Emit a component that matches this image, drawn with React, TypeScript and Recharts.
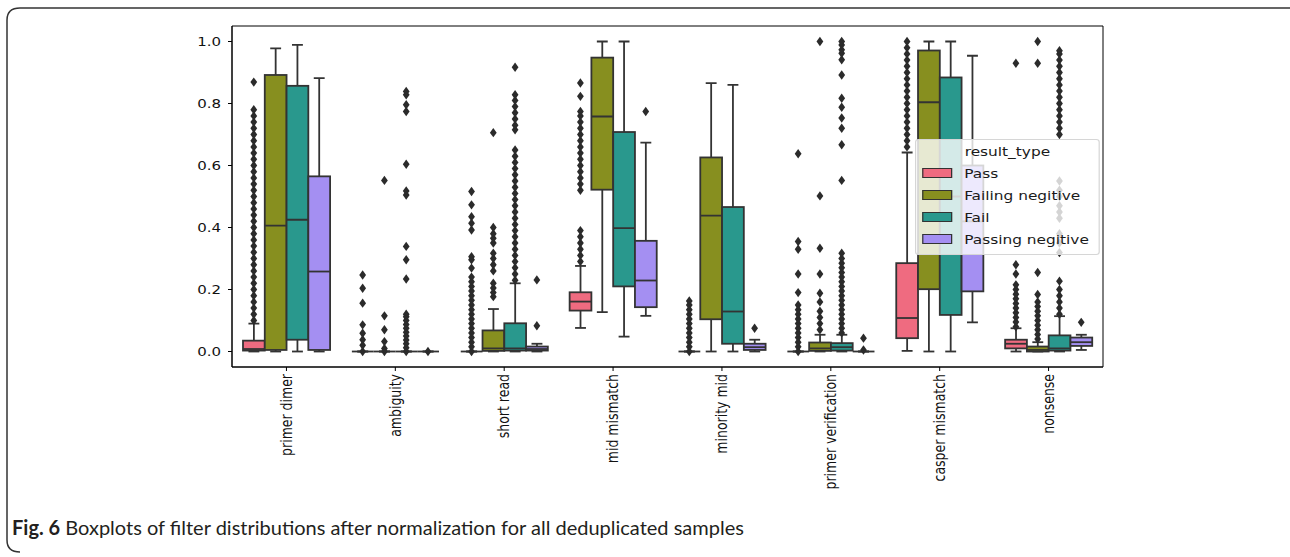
import { ComposedChart, Bar, Scatter, XAxis, YAxis, ReferenceArea, Legend } from "recharts";

const categories = [
  "primer dimer",
  "ambiguity",
  "short read",
  "mid mismatch",
  "minority mid",
  "primer verification",
  "casper mismatch",
  "nonsense",
];
const hues = ["Pass", "Failing negitive", "Fail", "Passing negitive"];
const hueColors = ["#ef6b80", "#878f1f", "#29988d", "#a48ff2"];
const hueOffsets = [-0.3, -0.1, 0.1, 0.3];
const yTicks = [0, 0.2, 0.4, 0.6, 0.8, 1.0];

// [low whisker, q1, median, q3, high whisker] per category
const passBoxes = [
  [0, 0.003, 0.008, 0.035, 0.09],
  [0, 0, 0, 0, 0],
  [0, 0, 0, 0, 0],
  [0.076, 0.132, 0.161, 0.191, 0.276],
  [0, 0, 0, 0, 0],
  [0, 0, 0, 0, 0],
  [0.002, 0.043, 0.108, 0.285, 0.642],
  [0, 0.01, 0.025, 0.038, 0.075],
];
const failingNegBoxes = [
  [0, 0.005, 0.406, 0.892, 0.978],
  [0, 0, 0, 0, 0],
  [0, 0.002, 0.01, 0.068, 0.137],
  [0.127, 0.522, 0.758, 0.948, 1.0],
  [0, 0.104, 0.438, 0.626, 0.866],
  [0, 0.002, 0.01, 0.029, 0.054],
  [0, 0.201, 0.804, 0.971, 1.0],
  [0, 0, 0.005, 0.016, 0.03],
];
const failBoxes = [
  [0, 0.038, 0.425, 0.857, 0.989],
  [0, 0, 0, 0, 0],
  [0, 0.003, 0.01, 0.091, 0.22],
  [0.048, 0.21, 0.398, 0.708, 1.0],
  [0, 0.025, 0.129, 0.466, 0.86],
  [0, 0.003, 0.014, 0.027, 0.054],
  [0, 0.118, 0.5, 0.884, 1.0],
  [0, 0.003, 0.01, 0.052, 0.114],
];
const passingNegBoxes = [
  [0, 0.005, 0.258, 0.565, 0.882],
  [0, 0, 0, 0, 0],
  [0, 0.003, 0.008, 0.016, 0.025],
  [0.115, 0.143, 0.229, 0.357, 0.674],
  [0, 0.005, 0.014, 0.025, 0.038],
  [0, 0, 0, 0, 0],
  [0.094, 0.194, 0.42, 0.6, 0.954],
  [0.005, 0.018, 0.03, 0.045, 0.054],
];

// outliers (fliers) per category
const passOutliers = [
  [0.1, 0.12, 0.14, 0.16, 0.18, 0.2, 0.22, 0.24, 0.26, 0.28, 0.3, 0.32, 0.34, 0.36, 0.38, 0.4, 0.42, 0.44, 0.46, 0.48, 0.5, 0.52, 0.54, 0.56, 0.58, 0.6, 0.62, 0.64, 0.66, 0.68, 0.7, 0.72, 0.74, 0.76, 0.78, 0.869],
  [0, 0.02, 0.038, 0.059, 0.086, 0.156, 0.204, 0.247],
  [0, 0.015, 0.03, 0.045, 0.06, 0.075, 0.09, 0.105, 0.12, 0.135, 0.15, 0.165, 0.18, 0.195, 0.21, 0.225, 0.24, 0.269, 0.296, 0.306, 0.392, 0.414, 0.435, 0.473, 0.516],
  [0.29, 0.31, 0.33, 0.35, 0.37, 0.39, 0.52, 0.54, 0.56, 0.58, 0.6, 0.62, 0.64, 0.66, 0.68, 0.7, 0.72, 0.74, 0.76, 0.774, 0.823, 0.866],
  [0, 0.015, 0.03, 0.045, 0.06, 0.075, 0.09, 0.105, 0.12, 0.135, 0.15, 0.163],
  [0, 0.015, 0.03, 0.045, 0.06, 0.075, 0.09, 0.105, 0.12, 0.135, 0.15, 0.19, 0.25, 0.33, 0.355, 0.638],
  [0.66, 0.68, 0.7, 0.72, 0.74, 0.76, 0.78, 0.8, 0.82, 0.84, 0.86, 0.88, 0.9, 0.92, 0.94, 0.96, 0.98, 1.0],
  [0.08, 0.095, 0.11, 0.125, 0.14, 0.155, 0.17, 0.185, 0.2, 0.215, 0.25, 0.28, 0.93],
];
const failingNegOutliers = [
  [],
  [0, 0.01, 0.032, 0.07, 0.115, 0.552],
  [0.177, 0.19, 0.205, 0.22, 0.26, 0.28, 0.3, 0.317, 0.35, 0.365, 0.38, 0.4, 0.706],
  [],
  [],
  [0.07, 0.09, 0.11, 0.13, 0.16, 0.188, 0.25, 0.333, 0.502, 1.0],
  [],
  [0.04, 0.055, 0.07, 0.085, 0.1, 0.115, 0.13, 0.145, 0.16, 0.184, 0.255, 0.93, 1.0],
];
const failOutliers = [
  [],
  [0, 0.012, 0.025, 0.037, 0.05, 0.062, 0.075, 0.087, 0.1, 0.112, 0.12, 0.234, 0.296, 0.339, 0.505, 0.518, 0.604, 0.774, 0.796, 0.828, 0.839],
  [0.23, 0.25, 0.27, 0.29, 0.31, 0.33, 0.35, 0.37, 0.39, 0.41, 0.43, 0.45, 0.47, 0.49, 0.51, 0.53, 0.55, 0.57, 0.59, 0.61, 0.63, 0.65, 0.715, 0.73, 0.75, 0.77, 0.79, 0.81, 0.828, 0.917],
  [],
  [],
  [0.06, 0.075, 0.09, 0.105, 0.12, 0.135, 0.15, 0.165, 0.18, 0.195, 0.21, 0.225, 0.24, 0.255, 0.27, 0.285, 0.3, 0.317, 0.552, 0.667, 0.72, 0.753, 0.788, 0.817, 0.892, 0.941, 0.962, 0.973, 0.989, 1.0],
  [],
  [0.12, 0.14, 0.16, 0.18, 0.2, 0.227, 0.319, 0.35, 0.38, 0.43, 0.45, 0.47, 0.5, 0.52, 0.55, 0.7, 0.72, 0.74, 0.76, 0.78, 0.8, 0.82, 0.84, 0.86, 0.88, 0.9, 0.92, 0.94, 0.96, 0.97],
];
const passingNegOutliers = [
  [],
  [0],
  [0.083, 0.231],
  [0.774],
  [0.075],
  [0.005, 0.043],
  [],
  [0.094],
];

const boxesByHue = [passBoxes, failingNegBoxes, failBoxes, passingNegBoxes];
const outliersByHue = [passOutliers, failingNegOutliers, failOutliers, passingNegOutliers];

const rows = categories.map((name, i) => ({
  name,
  boxes: boxesByHue.map((b) => b[i]),
}));

const outlierPoints = outliersByHue.map((list, h) =>
  list.flatMap((vals, i) => vals.map((v) => ({ x: i + hueOffsets[h], y: v })))
);

const EDGE = "#333";
const FONT = "'DejaVu Sans', sans-serif";

const boxRange = (hue: number) => (r: any) =>
  r && r.boxes ? [r.boxes[hue][0], r.boxes[hue][4]] : null;

function BoxShape(props: any) {
  const { x, y, width, height, payload, hue } = props;
  if (!payload || !payload.boxes || x == null || y == null) return null;
  const [lo, q1, med, q3, hi] = payload.boxes[hue];
  const h = Number(height) || 0;
  const top = Math.min(y, y + h);
  const span = Math.abs(h);
  const py = (v: number) => (hi > lo ? top + ((hi - v) / (hi - lo)) * span : top);
  const cx = x + width / 2;
  const cap = width / 4;
  return (
    <g stroke={EDGE} strokeWidth={1.8}>
      <line x1={cx} x2={cx} y1={py(hi)} y2={py(q3)} />
      <line x1={cx} x2={cx} y1={py(q1)} y2={py(lo)} />
      <line x1={cx - cap} x2={cx + cap} y1={py(hi)} y2={py(hi)} />
      <line x1={cx - cap} x2={cx + cap} y1={py(lo)} y2={py(lo)} />
      <rect x={x} y={py(q3)} width={width} height={py(q1) - py(q3)} fill={hueColors[hue]} />
      <line x1={x} x2={x + width} y1={py(med)} y2={py(med)} />
    </g>
  );
}

function Diamond(props: any) {
  const { cx, cy } = props;
  if (cx == null || cy == null) return null;
  return (
    <path
      d={`M${cx},${cy - 4.7} L${cx + 3.4},${cy} L${cx},${cy + 4.7} L${cx - 3.4},${cy} Z`}
      fill="#2b2b2b"
    />
  );
}

function YTick({ x, y, payload }: any) {
  return (
    <g transform={`translate(${x},${y})`}>
      <text transform="scale(1.2,1)" textAnchor="end" dy="0.35em" fontSize={12.5} fontFamily={FONT} fill="#111">
        {Number(payload?.value).toFixed(1)}
      </text>
    </g>
  );
}

function XTick({ x, y, payload }: any) {
  return (
    <g transform={`translate(${x},${y})`}>
      <text transform="scale(1.2,1) rotate(-90)" textAnchor="end" dy="0.35em" fontSize={12.5} fontFamily={FONT} fill="#111">
        {payload?.value}
      </text>
    </g>
  );
}

function LegendBox() {
  return (
    <div
      style={{
        transform: "scale(1.2,1)",
        transformOrigin: "0 0",
        width: 152,
        padding: "2px 0 4px 0",
        background: "rgba(255,255,255,0.8)",
        border: "1px solid #d6d6d6",
        borderRadius: 3,
        fontFamily: FONT,
        fontSize: 12.8,
        color: "#1a1a1a",
      }}
    >
      <div style={{ textAlign: "center", lineHeight: "20px" }}>result_type</div>
      {hues.map((h, i) => (
        <div key={h} style={{ display: "flex", alignItems: "center", height: 22 }}>
          <span
            style={{
              display: "inline-block",
              width: 23,
              height: 8,
              marginLeft: 5,
              marginRight: 10,
              background: hueColors[i],
              border: `1px solid ${EDGE}`,
            }}
          />
          <span>{h}</span>
        </div>
      ))}
    </div>
  );
}

export default function App() {
  return (
    <div style={{ position: "absolute", left: 0, top: 0, width: 1290, height: 557, background: "#fff" }}>
      <svg width={1290} height={557} style={{ position: "absolute", left: 0, top: 0 }}>
        <path d="M1290,8 H20 Q7,8 7,20 V540 Q7,552 20,552" fill="none" stroke="#333" strokeWidth={1.5} />
      </svg>
      <div style={{ position: "absolute", left: 0, top: 0 }}>
        <ComposedChart
          width={1290}
          height={557}
          data={rows}
          margin={{ top: 26, right: 187, bottom: 90, left: 172 }}
          barGap={0}
          barCategoryGap="10%"
        >
          <XAxis
            dataKey="name"
            interval={0}
            height={100}
            tickSize={4}
            tickMargin={3}
            tick={<XTick />}
            axisLine={{ stroke: "#000" }}
            tickLine={{ stroke: "#000" }}
          />
          <XAxis xAxisId="num" dataKey="x" type="number" domain={[-0.5, 7.5]} allowDataOverflow hide />
          <YAxis
            domain={[-0.05, 1.05]}
            ticks={yTicks}
            allowDataOverflow
            width={60}
            tickSize={4}
            tickMargin={7}
            tick={<YTick />}
            axisLine={{ stroke: "#000" }}
            tickLine={{ stroke: "#000" }}
          />
          {hues.map((h, hi) => (
            <Bar
              key={h}
              dataKey={boxRange(hi)}
              barSize={21.775}
              isAnimationActive={false}
              shape={(p: any) => <BoxShape {...p} hue={hi} />}
            />
          ))}
          {hues.map((h, hi) => (
            <Scatter
              key={"o" + h}
              xAxisId="num"
              data={outlierPoints[hi]}
              dataKey="y"
              isAnimationActive={false}
              shape={<Diamond />}
            />
          ))}
          <ReferenceArea
            xAxisId="num"
            x1={-0.5}
            x2={7.5}
            y1={-0.05}
            y2={1.05}
            fill="none"
            stroke="#000"
            strokeWidth={1}
            fillOpacity={0}
            ifOverflow="visible"
          />
          <Legend
            layout="vertical"
            align="center"
            verticalAlign="middle"
            wrapperStyle={{ left: 915, top: 139, width: "auto" }}
            content={() => <LegendBox />}
          />
        </ComposedChart>
      </div>
      <div
        style={{
          position: "absolute",
          left: 12,
          top: 515,
          fontFamily: "Lato, sans-serif",
          fontSize: 20,
          color: "#231f20",
          whiteSpace: "nowrap",
        }}
      >
        <b>Fig. 6</b> Boxplots of filter distributions after normalization for all deduplicated samples
      </div>
    </div>
  );
}
